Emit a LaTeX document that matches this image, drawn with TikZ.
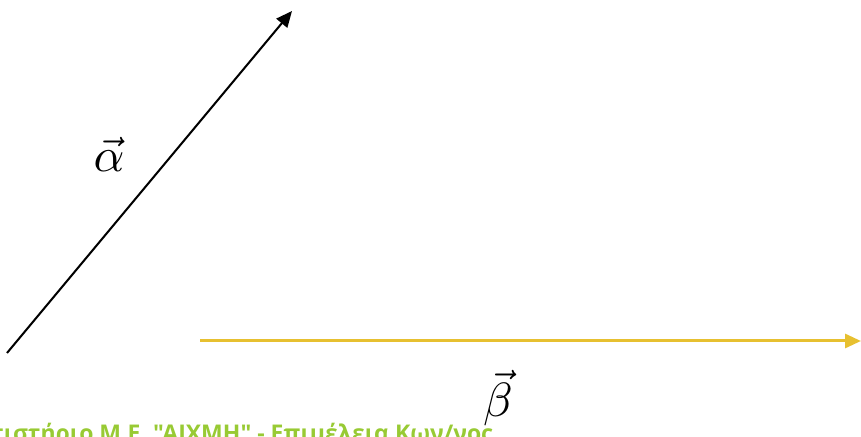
\documentclass[tikz,border=0pt]{standalone}
\usepackage{fontspec}
\newfontfamily\footfont{Open Sans}
\usetikzlibrary{arrows.meta}
\definecolor{betacol}{RGB}{231,192,48}
\definecolor{footgreen}{RGB}{152,202,52}
\tikzset{
  vecarrow/.style={line width=2pt,-{Triangle[length=16pt,width=14pt]}},
  veclabel/.style={scale=4.8,inner sep=0pt},
}
\begin{document}
\begin{tikzpicture}[x=1pt,y=1pt]
\useasboundingbox (0,0) rectangle (861,436);
% alpha vector
\coordinate (a0) at (7,83);
\coordinate (a1) at (292,425);
\draw[vecarrow,black] (a0) -- (a1);
% beta vector
\coordinate (b0) at (200,95);
\coordinate (b1) at (861,95);
\draw[vecarrow,betacol,line width=3pt] (b0) -- (b1);
% labels
\node[veclabel] (la) at (109,282) {$\vec{\alpha}$};
\node[veclabel] (lb) at (498,38) {$\vec{\beta}$};
% footer
\node[anchor=base east,inner sep=0pt,text=footgreen,font=\footfont\bfseries\fontsize{23}{26}\selectfont] (foot) at (493,-5) {Φροντιστήριο Μ.Ε. "ΑΙΧΜΗ" - Επιμέλεια Κων/νος};
\end{tikzpicture}
\end{document}
